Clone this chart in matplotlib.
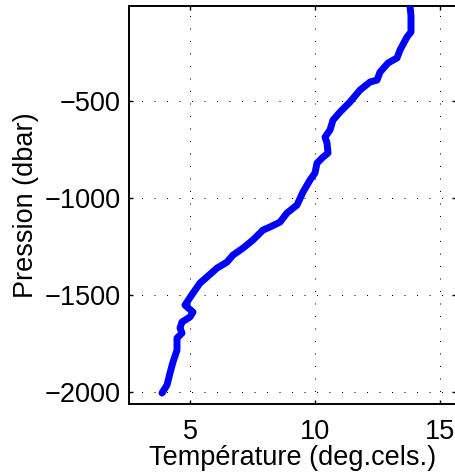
import matplotlib
matplotlib.use("Agg")
import matplotlib.pyplot as plt

temperature = [13.80, 13.84, 13.84, 13.68, 13.40, 13.28, 12.92, 12.60, 12.48, 12.20,
               11.80, 11.40, 11.00, 10.72, 10.60, 10.40, 10.48, 10.52, 10.32, 10.08,
               10.00, 9.80, 9.52, 9.28, 8.88, 8.60, 8.20, 7.92, 7.52, 7.12,
               6.72, 6.48, 6.08, 5.68, 5.40, 5.12, 4.88, 4.80, 5.12, 5.00,
               4.68, 4.60, 4.68, 4.48, 4.48, 4.32, 4.20, 4.08, 3.88]
pression = [-10, -60, -144, -170, -237, -278, -304, -351, -392, -402,
            -443, -505, -557, -598, -649, -686, -716, -768, -789, -820,
            -871, -907, -969, -1036, -1077, -1124, -1149, -1165, -1216, -1258,
            -1294, -1330, -1361, -1407, -1438, -1490, -1536, -1552, -1588, -1613,
            -1639, -1670, -1696, -1722, -1784, -1845, -1902, -1964, -2005]

xticks = [5, 10, 15]
yticks = [-2000, -1500, -1000, -500]

plt.rcParams['font.family'] = ['Liberation Sans', 'DejaVu Sans']

fig = plt.figure(figsize=(4.55, 4.73), dpi=100)
ax = fig.add_axes([129/455, 1 - 403.5/473, 327/455, 397.5/473])

ax.plot(temperature, pression, color=(0, 0, 1), linewidth=5,
        solid_capstyle='round', solid_joinstyle='round', zorder=3)

ax.set_xlim(2.56, 15.64)
ax.set_ylim(-2059, -10)
ax.set_xticks(xticks)
ax.set_yticks(yticks)
ax.set_xticklabels([str(t) for t in xticks])
ax.set_yticklabels(['\u2212' + str(abs(t)) for t in yticks])

ax.grid(True, color='black', linestyle=(0, (1, 11)), linewidth=0.75)
ax.tick_params(direction='in', length=3, width=1, top=True, right=True,
               labelsize=19.5)
ax.tick_params(axis='x', pad=11)
ax.tick_params(axis='y', pad=6)
for s in ax.spines.values():
    s.set_linewidth(1.4)

ax.set_xlabel('Température (deg.cels.)', fontsize=19.5, labelpad=0)
ax.set_ylabel('Pression (dbar)', fontsize=19.5, labelpad=4)

fig.savefig('out.png', dpi=100)
